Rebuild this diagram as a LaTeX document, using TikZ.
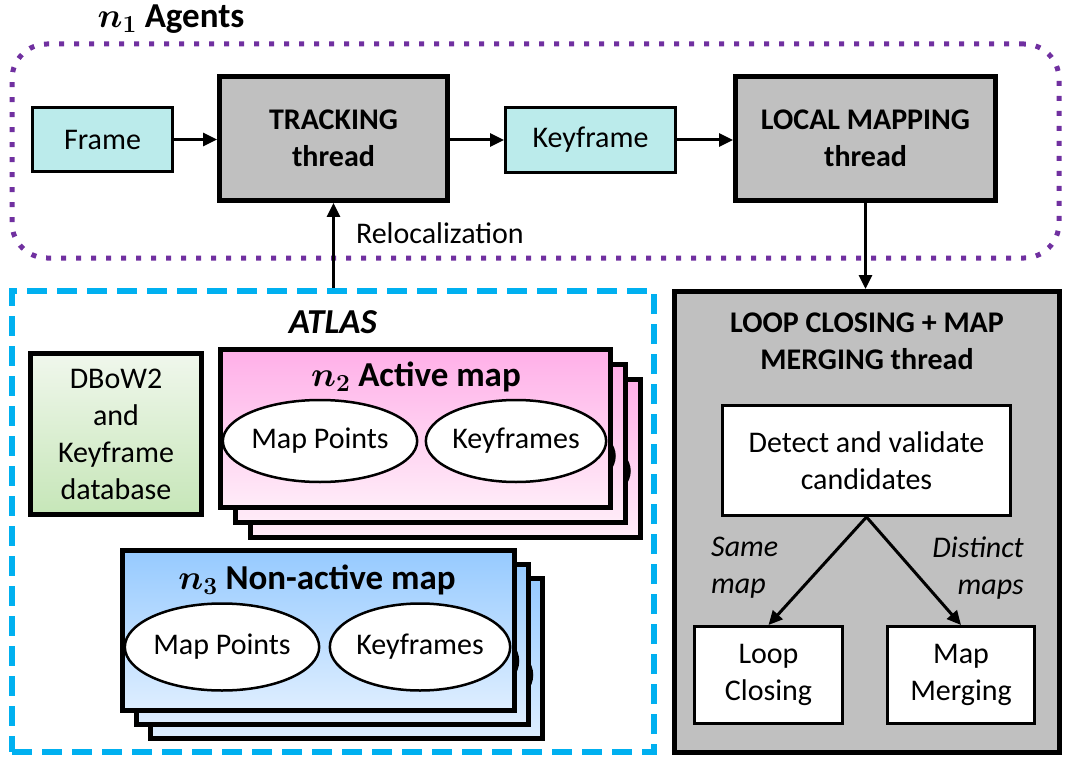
\RequirePackage{fix-cm}
\documentclass[tikz,border=0pt]{standalone}
\usepackage{fontspec}
\setmainfont{Carlito}
\usepackage{amsmath}
\usepackage{bm}
\usetikzlibrary{arrows.meta,shapes.geometric}

\definecolor{agentpurple}{RGB}{112,48,160}
\definecolor{atlasblue}{RGB}{0,176,240}
\definecolor{threadgray}{RGB}{192,192,192}
\definecolor{framecyan}{RGB}{187,235,235}
\definecolor{activetop}{RGB}{255,175,232}
\definecolor{activebot}{RGB}{255,236,248}
\definecolor{inactivetop}{RGB}{150,202,255}
\definecolor{inactivebot}{RGB}{222,238,255}
\definecolor{dbowtop}{RGB}{240,247,236}
\definecolor{dbowbot}{RGB}{198,230,184}

\begin{document}
\begin{tikzpicture}[x=1pt,y=-1pt,font=\fontsize{30}{37}\selectfont,
  thread/.style={draw,line width=5pt,fill=threadgray,align=center,font=\fontsize{30}{37}\selectfont\bfseries},
  data/.style={draw,line width=3pt,fill=framecyan},
  plain/.style={draw,line width=3pt,fill=white,align=center},
  ellip/.style={draw,ellipse,line width=2.5pt,fill=white,inner sep=0pt},
  bigtitle/.style={font=\fontsize{35}{40}\selectfont\bfseries},
  arr/.style={-{Triangle[length=14pt,width=13pt]},line width=3pt}]
\useasboundingbox (0,0) rectangle (1075,767);

% agents
\node[draw=agentpurple,line width=5pt,dash pattern=on 5pt off 10pt,rounded corners=35pt,
  minimum width=1047pt,minimum height=214pt] (agents) at (535.5,151) {};
\node[bigtitle,inner sep=0pt] (agentstitle) at (171,19) {{\boldmath$n_1$} Agents};

\node[data,minimum width=140pt,minimum height=64pt] (frame) at (102.5,139.5) {Frame};
\node[thread,minimum width=228pt,minimum height=124pt] (track) at (333.5,138.5) {TRACKING\\thread};
\node[data,minimum width=170pt,minimum height=65pt] (keyf) at (590.5,140) {Keyframe};
\node[thread,minimum width=260pt,minimum height=124pt] (local) at (865.5,138.5) {LOCAL MAPPING\\thread};

\draw[arr] (frame.east) -- (frame.east -| track.west);
\draw[arr] (keyf.west -| track.east) -- (keyf.west);
\draw[arr] (keyf.east) -- (keyf.east -| local.west);

% atlas
\node[draw=atlasblue,line width=6pt,dash pattern=on 20pt off 10pt,
  minimum width=642pt,minimum height=461pt] (atlas) at (333,521.5) {};
\node[bigtitle] (atlastitle) at (333,322) {\textit{ATLAS}};
\draw[arr] (track.south |- atlas.north) -- (track.south)
  node[pos=0.65,right=21pt,inner sep=0pt] (reloc) {Relocalization};

\node[draw,line width=5pt,top color=dbowtop,bottom color=dbowbot,align=center,
  minimum width=171pt,minimum height=161pt] (dbow) at (116,434) {DBoW2\\and\\Keyframe\\database};

% active map
\foreach \d in {30,15} {
  \draw[line width=5pt,top color=activetop,bottom color=activebot]
    (220.5+\d,349.5+\d) rectangle (610.5+\d,507.5+\d);
  \draw[line width=2.5pt] (516+\d,441+\d) ellipse (83.5pt and 41pt);
}
\node[draw,line width=5pt,top color=activetop,bottom color=activebot,
  minimum width=390pt,minimum height=158pt] (active) at (415.5,428.5) {};
\node[bigtitle] (activetitle) at (416,377) {{\boldmath$n_2$} Active map};
\node[ellip,minimum width=167pt,minimum height=82pt] (amp) at (320,441) {Map Points};
\node[ellip,minimum width=167pt,minimum height=82pt] (akf) at (516,441) {Keyframes};

% non-active map
\foreach \d in {28,14} {
  \draw[line width=5pt,top color=inactivetop,bottom color=inactivebot]
    (122.5+\d,550.5+\d) rectangle (514.5+\d,710.5+\d);
  \draw[line width=2.5pt] (420+\d,647+\d) ellipse (84pt and 43.5pt);
}
\node[draw,line width=5pt,top color=inactivetop,bottom color=inactivebot,
  minimum width=392pt,minimum height=160pt] (inactive) at (318.5,630.5) {};
\node[bigtitle] (inactivetitle) at (317,580) {{\boldmath$n_3$} Non-active map};
\node[ellip,minimum width=168pt,minimum height=87pt] (imp) at (222,647) {Map Points};
\node[ellip,minimum width=168pt,minimum height=87pt] (ikf) at (420,647) {Keyframes};

% loop closing
\node[thread,minimum width=385pt,minimum height=461pt] (loop) at (867,522) {};
\draw[arr] (local.south) -- (local.south |- loop.north);
\node[align=center,font=\fontsize{30}{37}\selectfont\bfseries] (looptitle) at (867,341)
  {LOOP CLOSING + MAP\\MERGING thread};
\node[plain,minimum width=288pt,minimum height=110pt] (detect) at (866.5,460.5)
  {Detect and validate\\candidates};
\node[plain,minimum width=148pt,minimum height=97pt] (loopc) at (768.5,675) {Loop\\Closing};
\node[plain,minimum width=147pt,minimum height=97pt] (mapm) at (961,675) {Map\\Merging};
\draw[arr] (detect.south) -- (loopc.north);
\draw[arr] (detect.south) -- (mapm.north);
\node[anchor=west,align=left,inner sep=0pt,font=\fontsize{30}{37}\selectfont\itshape] (same) at (711,568) {Same\\map};
\node[anchor=east,align=right,inner sep=0pt,font=\fontsize{30}{37}\selectfont\itshape] (distinct) at (1024,568) {Distinct\\maps};
\end{tikzpicture}
\end{document}
